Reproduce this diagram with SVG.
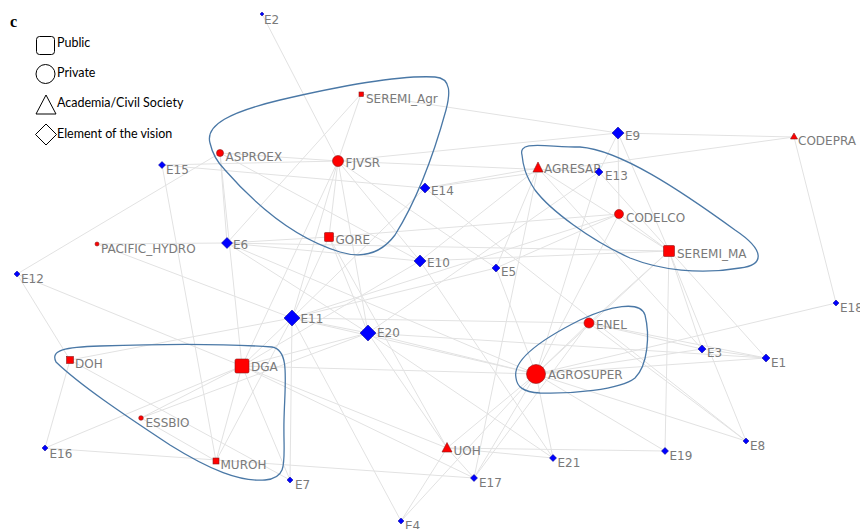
<svg xmlns="http://www.w3.org/2000/svg" width="860" height="529" viewBox="0 0 860 529">
<style>
.e{stroke:#e2e2e2;stroke-width:1;fill:none}
.hull{fill:none;stroke:#4a78a6;stroke-width:1.3}
.r{fill:#ff0000;stroke:#8b1a1a;stroke-width:0.6}
.b{fill:#0000ff;stroke:#00008b;stroke-width:0.5}
.lb{font-family:"DejaVu Sans",Verdana,sans-serif;font-size:12px;fill:#7a7a7a}
.lg{font-family:Lato,"Liberation Sans",sans-serif;font-size:12.5px;fill:#000}
.ls{fill:none;stroke:#000;stroke-width:1}
</style>
<rect width="860" height="529" fill="#fff"/>
<g id="edges">
<path class="e" d="M262,14L338,161M361,94L338,161M361,94L618,133M361,94L227,243M618,133L338,161M618,133L794,137M618,133L599,172M618,133L619,214M618,133L669,251M794,137L836,303M794,137L425,188M836,303L536,374M702,349L589,323M702,349L536,374M702,349L766,358M702,349L669,251M702,349L538,168M766,358L536,374M766,358L599,172M746,441L589,323M746,441L536,374M746,441L669,251M665,451L669,251M665,451L536,374M665,451L447,448M553,458L536,374M553,458L447,448M553,458L368,333M474,478L536,374M474,478L589,323M474,478L447,448M474,478L45,448M401,521L447,448M401,521L292,318M401,521L536,374M17,274L220,153M17,274L70,360M17,274L242,366M45,448L70,360M45,448L242,366M70,360L290,480M70,360L292,318M141,418L216,461M141,418L242,366M141,418L368,333M97,244L292,318M97,244L227,243M162,165L216,461M162,165L338,161M162,165L425,188M220,153L227,243M220,153L242,366M220,153L420,261M220,153L338,161M338,161L329,237M338,161L292,318M338,161L368,333M338,161L420,261M338,161L496,268M338,161L599,172M338,161L242,366M329,237L292,318M329,237L368,333M329,237L227,243M329,237L447,448M329,237L619,214M425,188L538,168M425,188L292,318M425,188L746,441M227,243L368,333M227,243L536,374M227,243L420,261M227,243L669,251M420,261L242,366M420,261L538,168M420,261L669,251M420,261L553,458M496,268L292,318M496,268L536,374M496,268L538,168M496,268L619,214M292,318L536,374M292,318L368,333M292,318L290,480M292,318L216,461M292,318L589,323M292,318L242,366M368,333L536,374M368,333L447,448M368,333L242,366M368,333L766,358M242,366L536,374M242,366L447,448M242,366L474,478M242,366L290,480M242,366L216,461M538,168L669,251M538,168L474,478M619,214L669,251M619,214L536,374M619,214L292,318M669,251L536,374M669,251L589,323M589,323L766,358M536,374L447,448M599,172L368,333M599,172L536,374M536,374L589,323"/>
</g>
<g id="hulls">
<path class="hull" d="M210,143C205,125 230,112 280,100C340,86 400,75 435,77C452,78 450,95 446,110C435,150 420,195 395,235C380,255 360,258 340,252C300,240 260,210 225,170C215,160 212,152 210,143Z"/>
<path class="hull" d="M522,155C518,140 545,147 580,147C620,150 680,190 735,230C765,250 765,265 740,268C700,275 660,270 630,258C590,240 550,210 535,190C525,175 523,165 522,155Z"/>
<path class="hull" d="M516,378C512,360 540,340 580,320C610,306 640,300 645,315C650,335 648,365 635,378C620,390 570,394 540,393C522,392 517,386 516,378Z"/>
<path class="hull" d="M56,362C50,350 65,347 100,346C160,344 230,344 272,347C290,350 285,380 284,420C283,460 290,478 265,480C240,482 210,470 170,445C120,412 80,385 56,362Z"/>
</g>
<g id="legend">
<text x="10" y="27" font-family="'Liberation Serif',serif" font-weight="bold" font-size="16">c</text>
<rect class="ls" x="36.5" y="36.5" width="18" height="18" rx="3"/>
<text class="lg" x="57" y="47">Public</text>
<circle class="ls" cx="45.5" cy="74" r="9.5"/>
<text class="lg" x="57" y="77">Private</text>
<path class="ls" d="M46,95L56,114L36,114Z"/>
<text class="lg" x="57" y="107">Academia/Civil Society</text>
<path class="ls" d="M46,124L56.5,134.5L46,145L35.5,134.5Z"/>
<text class="lg" x="57" y="137.5">Element of the vision</text>
</g>
<g id="E2"><path class="b" d="M262,12L264,14L262,16L260,14Z"/><text class="lb" x="264" y="24">E2</text></g>
<g id="SEREMI_Agr"><rect class="r" x="359" y="92" width="4.5" height="4.5"/><text class="lb" x="366" y="103">SEREMI_Agr</text></g>
<g id="ASPROEX"><circle class="r" cx="220" cy="153" r="3.5"/><text class="lb" x="225.5" y="161">ASPROEX</text></g>
<g id="FJVSR"><circle class="r" cx="338" cy="161" r="5.5"/><text class="lb" x="345.5" y="166.5">FJVSR</text></g>
<g id="E9"><path class="b" d="M618,127L624,133L618,139L612,133Z"/><text class="lb" x="625" y="139.5">E9</text></g>
<g id="CODEPRA"><path class="r" d="M794,133L797.5,139L790.5,139Z"/><text class="lb" x="798" y="144.5">CODEPRA</text></g>
<g id="E15"><path class="b" d="M162,161.5L165.5,165L162,168.5L158.5,165Z"/><text class="lb" x="166" y="173.5">E15</text></g>
<g id="AGRESAR"><path class="r" d="M538,162L543,172L533,172Z"/><text class="lb" x="544" y="173">AGRESAR</text></g>
<g id="E13"><path class="b" d="M599,168L603,172L599,176L595,172Z"/><text class="lb" x="605" y="180">E13</text></g>
<g id="E14"><path class="b" d="M425,183L430,188L425,193L420,188Z"/><text class="lb" x="431" y="195">E14</text></g>
<g id="CODELCO"><circle class="r" cx="619" cy="214" r="4.5"/><text class="lb" x="626" y="221.5">CODELCO</text></g>
<g id="GORE"><rect class="r" x="324.5" y="232.5" width="9" height="9" rx="0.8"/><text class="lb" x="335.5" y="244">GORE</text></g>
<g id="E6"><path class="b" d="M227,237.5L232.5,243L227,248.5L221.5,243Z"/><text class="lb" x="233" y="249">E6</text></g>
<g id="PACIFIC_HYDRO"><circle class="r" cx="97" cy="244" r="2"/><text class="lb" x="101" y="253">PACIFIC_HYDRO</text></g>
<g id="SEREMI_MA"><rect class="r" x="663.5" y="245.5" width="11" height="11" rx="1"/><text class="lb" x="677" y="257.5">SEREMI_MA</text></g>
<g id="E10"><path class="b" d="M420,255L426,261L420,267L414,261Z"/><text class="lb" x="427" y="266.5">E10</text></g>
<g id="E5"><path class="b" d="M496,264L500,268L496,272L492,268Z"/><text class="lb" x="501" y="276">E5</text></g>
<g id="E12"><path class="b" d="M17,271L20,274L17,277L14,274Z"/><text class="lb" x="21" y="283">E12</text></g>
<g id="E18"><path class="b" d="M836,300L839,303L836,306L833,303Z"/><text class="lb" x="840" y="312">E18</text></g>
<g id="E11"><path class="b" d="M292,310L300,318L292,326L284,318Z"/><text class="lb" x="300.5" y="322.5">E11</text></g>
<g id="E20"><path class="b" d="M368,325L376,333L368,341L360,333Z"/><text class="lb" x="377" y="337">E20</text></g>
<g id="ENEL"><circle class="r" cx="589" cy="323" r="5"/><text class="lb" x="596" y="329">ENEL</text></g>
<g id="E3"><path class="b" d="M702,345L706,349L702,353L698,349Z"/><text class="lb" x="707" y="357">E3</text></g>
<g id="E1"><path class="b" d="M766,354L770,358L766,362L762,358Z"/><text class="lb" x="771" y="366.5">E1</text></g>
<g id="DOH"><rect class="r" x="66.5" y="356.5" width="7" height="7"/><text class="lb" x="75" y="368">DOH</text></g>
<g id="DGA"><rect class="r" x="235" y="359" width="14" height="14" rx="1.5"/><text class="lb" x="251" y="370.5">DGA</text></g>
<g id="AGROSUPER"><circle class="r" cx="536" cy="374" r="9.5"/><text class="lb" x="548" y="378.5">AGROSUPER</text></g>
<g id="ESSBIO"><circle class="r" cx="141" cy="418" r="2.3"/><text class="lb" x="145.5" y="426.5">ESSBIO</text></g>
<g id="E8"><path class="b" d="M746,438L749,441L746,444L743,441Z"/><text class="lb" x="750" y="450">E8</text></g>
<g id="UOH"><path class="r" d="M447,442.5L452,452L442,452Z"/><text class="lb" x="453.5" y="454.5">UOH</text></g>
<g id="E16"><path class="b" d="M45,445L48,448L45,451L42,448Z"/><text class="lb" x="49.5" y="458">E16</text></g>
<g id="E19"><path class="b" d="M665,447.5L668.5,451L665,454.5L661.5,451Z"/><text class="lb" x="669.5" y="460">E19</text></g>
<g id="E21"><path class="b" d="M553,454.5L556.5,458L553,461.5L549.5,458Z"/><text class="lb" x="557.5" y="467">E21</text></g>
<g id="MUROH"><rect class="r" x="213" y="458" width="6" height="6"/><text class="lb" x="220.5" y="469">MUROH</text></g>
<g id="E17"><path class="b" d="M474,474.5L477.5,478L474,481.5L470.5,478Z"/><text class="lb" x="479" y="487">E17</text></g>
<g id="E7"><path class="b" d="M290,477L293,480L290,483L287,480Z"/><text class="lb" x="295" y="489">E7</text></g>
<g id="E4"><path class="b" d="M401,518L404,521L401,524L398,521Z"/><text class="lb" x="405" y="530">E4</text></g>
</svg>
